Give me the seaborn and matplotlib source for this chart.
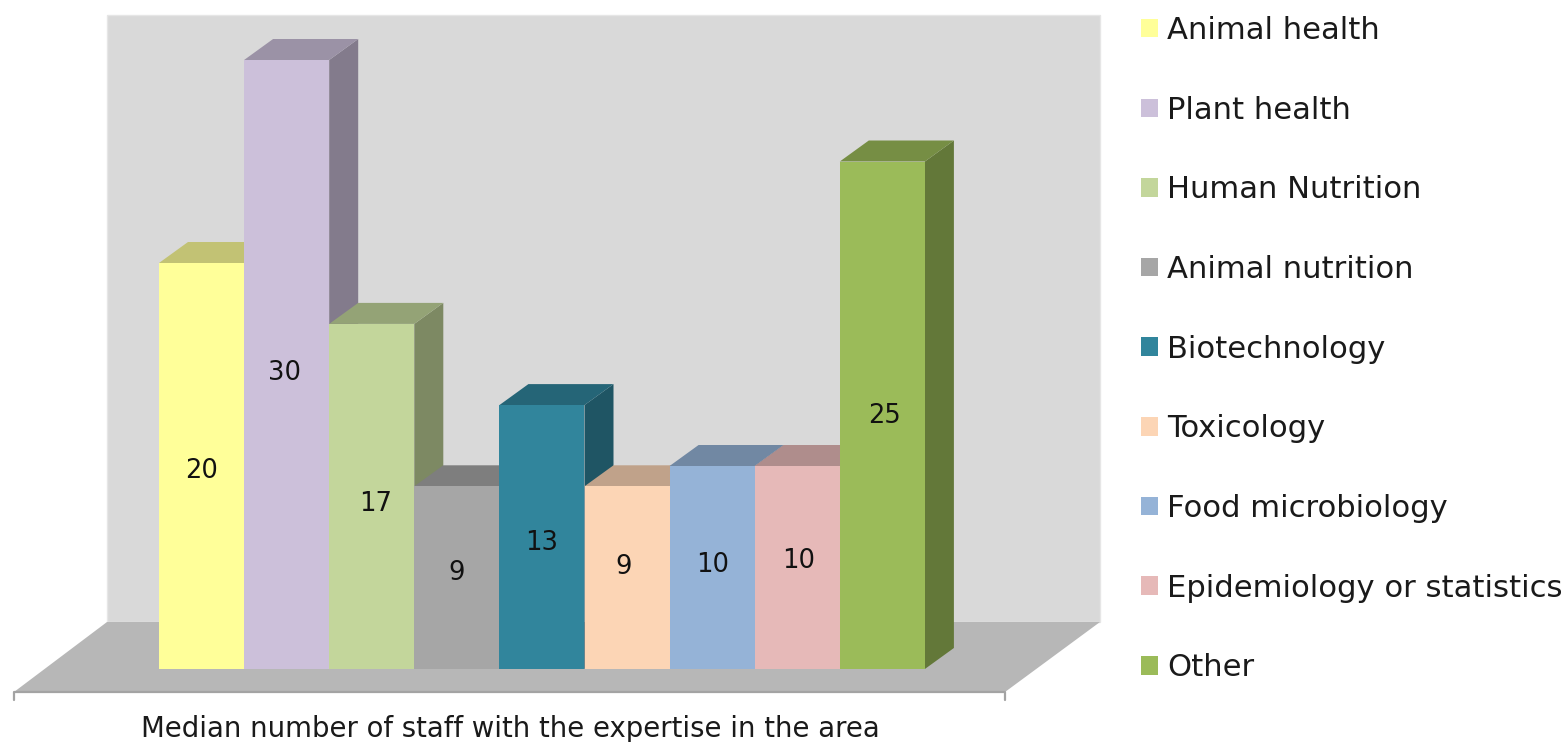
import numpy as np
import pandas as pd
import seaborn as sns
import matplotlib.pyplot as plt
from matplotlib.colors import to_rgb
from matplotlib.patches import Polygon

areas = ["Animal health", "Plant health", "Human Nutrition", "Animal nutrition",
         "Biotechnology", "Toxicology", "Food microbiology",
         "Epidemiology or statistics", "Other"]
staff = [20, 30, 17, 9, 13, 9, 10, 10, 25]
bar_colors = ["#FFFF99", "#CCC0DA", "#C3D69B", "#A6A6A6", "#31859C",
              "#FCD5B5", "#95B3D7", "#E6B9B8", "#9BBB59"]
xlabel_text = "Median number of staff with the expertise in the area"

# label nudges (in bar widths / staff units), the labels are not centred in the original
label_dx = [0.0, -0.02, 0.05, 0, 0, -0.04, 0.0, 0.02, 0.02]
label_dy = [-0.25, -0.42, -0.35, 0.25, -0.3, 0.5, 0.1, 0.3, -0.05]

W, H = 1567, 742
PX_X = 85.1   # pixels per category
PX_Y = 20.3   # pixels per staff unit
X0, Y0 = 159, 669  # pixel position of left edge of first bar / baseline


def px(x, y):
    # picture pixels to data coords
    return (x - X0) / PX_X - 0.5, (Y0 - y) / PX_Y


def shade(c, f):
    return tuple(v * f for v in to_rgb(c))


sns.set_style("white")
df = pd.DataFrame({"area": areas, "staff": staff})

fig = plt.figure(figsize=(W / 100, H / 100), dpi=100)
ax = fig.add_axes([0, 0, 1, 1])

sns.barplot(data=df, x="area", y="staff", hue="area", hue_order=areas,
            palette=bar_colors, width=1, dodge=False, linewidth=0,
            saturation=1, legend=True, ax=ax, zorder=5)

ax.set_xlim(px(0, 0)[0], px(W, 0)[0])
ax.set_ylim(px(0, H)[1], px(0, 0)[1])

# wall and floor
wall = [px(107, 15), px(1100, 15), px(1100, 622), px(107, 622)]
floor = [px(107, 622), px(1100, 622), px(1005, 692), px(14, 692)]
ax.add_patch(Polygon(wall, fc="#D9D9D9", ec="#E6E6E6", lw=1, zorder=1))
ax.add_patch(Polygon(floor, fc="#B7B7B7", ec="none", zorder=1))
ax.plot(*zip(px(14, 700), px(14, 692), px(1005, 692), px(1005, 700)),
        color="#A3A3A3", lw=1.6, zorder=2)

# depth of the bars
dx = 29 / PX_X
dy = 21 / PX_Y
for i, bar in enumerate(ax.patches[:len(areas)]):
    x0 = bar.get_x()
    x1 = x0 + bar.get_width()
    h = bar.get_height()
    c = bar_colors[i]
    side = [(x1, 0), (x1 + dx, dy), (x1 + dx, h + dy), (x1, h)]
    top = [(x0, h), (x0 + dx, h + dy), (x1 + dx, h + dy), (x1, h)]
    ax.add_patch(Polygon(side, fc=shade(c, 0.64), ec="none", zorder=3 + i * 0.01))
    ax.add_patch(Polygon(top, fc=shade(c, 0.76), ec="none", zorder=3 + i * 0.01))
    ax.text(i + label_dx[i], h / 2 + label_dy[i], str(staff[i]), ha="center", va="center",
            fontsize=18.5, color="#111111", zorder=6)

ax.text(*px(510, 729), xlabel_text, ha="center", va="center", fontsize=19.8, color="#1a1a1a")

sns.move_legend(ax, "upper left", bbox_to_anchor=(1141 / W, 1 - 16 / H), title=None,
                frameon=False, fontsize=22.1, labelspacing=1.65, handlelength=0.553,
                handleheight=0.553, handletextpad=0.3, borderpad=0, borderaxespad=0,
                labelcolor="#1a1a1a")

ax.set_axis_off()
fig.savefig("out.png", dpi=100)
